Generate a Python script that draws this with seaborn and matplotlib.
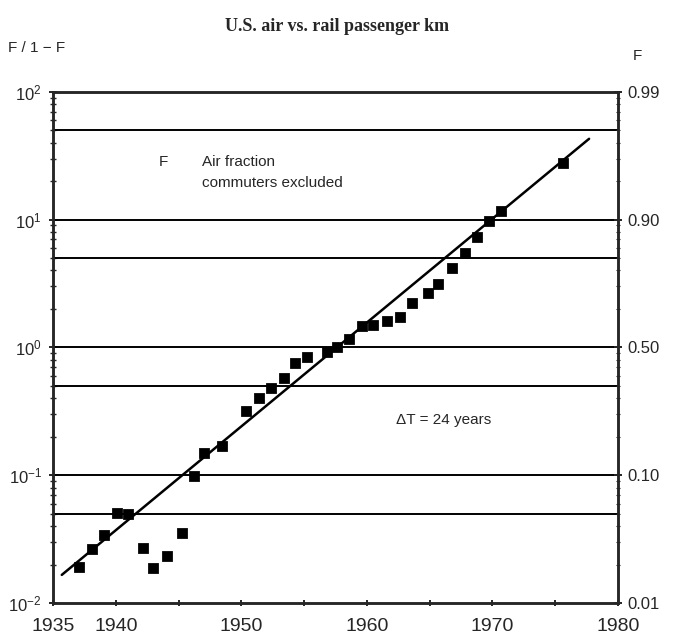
import matplotlib
matplotlib.use("Agg")
import matplotlib.pyplot as plt
import matplotlib.ticker as mticker
import seaborn as sns
import pandas as pd

# --- data ---
years = [1937.1, 1938.1, 1939.1, 1940.1, 1941.0, 1942.2, 1943.0, 1944.1, 1945.3,
         1946.2, 1947.0, 1948.5, 1950.4, 1951.4, 1952.4, 1953.4, 1954.3, 1955.2,
         1956.8, 1957.6, 1958.6, 1959.6, 1960.5, 1961.6, 1962.6, 1963.6, 1964.9,
         1965.7, 1966.8, 1967.8, 1968.8, 1969.7, 1970.7, 1975.6]
ratio = [0.019, 0.0265, 0.034, 0.0507, 0.0497, 0.027, 0.0188, 0.0233, 0.0353,
         0.0987, 0.149, 0.169, 0.318, 0.40, 0.48, 0.577, 0.757, 0.843,
         0.92, 1.0, 1.16, 1.47, 1.5, 1.61, 1.73, 2.23, 2.67,
         3.14, 4.19, 5.5, 7.33, 9.78, 11.7, 27.8]

fit_years = [1935.7, 1977.7]
fit_ratio = [0.0166, 42.9]

hlines = [50, 10, 5, 1, 0.5, 0.1, 0.05]
left_ticks = [100, 10, 1, 0.1, 0.01]
left_labels = ["$10^{2}$", "$10^{1}$", "$10^{0}$", "$10^{-1}$", "$10^{-2}$"]
right_labels = ["0.99", "0.90", "0.50", "0.10", "0.01"]
x_labels = {1935: "1935", 1940: "1940", 1950: "1950", 1960: "1960", 1970: "1970", 1980: "1980"}

df = pd.DataFrame({"year": years, "ratio": ratio})
fit = pd.DataFrame({"year": fit_years, "ratio": fit_ratio})

sns.set_style("ticks")
plt.rcParams["font.family"] = ["Liberation Sans", "DejaVu Sans"]
plt.rcParams["mathtext.fontset"] = "custom"
plt.rcParams["mathtext.rm"] = "Liberation Sans"
plt.rcParams["mathtext.it"] = "Liberation Sans"

fig = plt.figure(figsize=(6.75, 6.39), dpi=100)
ax = fig.add_axes([0.0785, 0.0563, 0.837, 0.80])

for h in hlines:
    ax.axhline(h, color="black", lw=1.4, zorder=1)

sns.lineplot(data=fit, x="year", y="ratio", color="black", lw=1.8, ax=ax, zorder=2)
sns.scatterplot(data=df, x="year", y="ratio", marker="s", s=50, color="black",
                edgecolor="black", ax=ax, zorder=3)

ax.set_yscale("log")
ax.set_xlim(1935, 1980)
ax.set_ylim(0.01, 100)
ax.set_xlabel("")
ax.set_ylabel("")

ax.set_xticks(range(1935, 1981, 5))
ax.set_xticklabels([x_labels.get(y, "") for y in range(1935, 1981, 5)], fontsize=14)
ax.set_yticks(left_ticks)
ax.set_yticklabels(left_labels, fontsize=12)
ax.yaxis.set_minor_locator(mticker.LogLocator(base=10, subs=range(2, 10)))
ax.yaxis.set_minor_formatter(mticker.NullFormatter())
ax.tick_params(axis="x", which="major", direction="inout", length=5, width=1.4, pad=8)
ax.tick_params(axis="y", which="major", direction="inout", length=6, width=1.4, pad=5)
ax.tick_params(axis="y", which="minor", direction="inout", length=4, width=1.0)
for sp in ax.spines.values():
    sp.set_linewidth(1.8)

ax2 = ax.twinx()
ax2.set_yscale("log")
ax2.set_ylim(0.01, 100)
ax2.set_yticks(left_ticks)
ax2.set_yticklabels(right_labels, fontsize=12)
ax2.yaxis.set_minor_locator(mticker.LogLocator(base=10, subs=range(2, 10)))
ax2.yaxis.set_minor_formatter(mticker.NullFormatter())
ax2.tick_params(axis="y", which="major", direction="inout", length=6, width=1.4, pad=4)
ax2.tick_params(axis="y", which="minor", direction="inout", length=3, width=0.8)
for sp in ax2.spines.values():
    sp.set_linewidth(1.8)

fig.text(0.5, 0.958, "U.S. air vs. rail passenger km", ha="center", va="center",
         fontsize=13, fontweight="bold", family="Liberation Serif")
fig.text(0.012, 0.925, "F / 1 \u2212 F", ha="left", va="center", fontsize=11)
fig.text(0.938, 0.913, "F", ha="left", va="center", fontsize=11)

ax.text(1943.4, 28, "F", ha="left", va="center", fontsize=11)
ax.text(1946.9, 28, "Air fraction", ha="left", va="center", fontsize=11)
ax.text(1946.9, 19.5, "commuters excluded", ha="left", va="center", fontsize=11)
ax.text(1962.3, 0.27, "\u0394T = 24 years", ha="left", va="center", fontsize=11)

fig.savefig("out.png", dpi=100)
